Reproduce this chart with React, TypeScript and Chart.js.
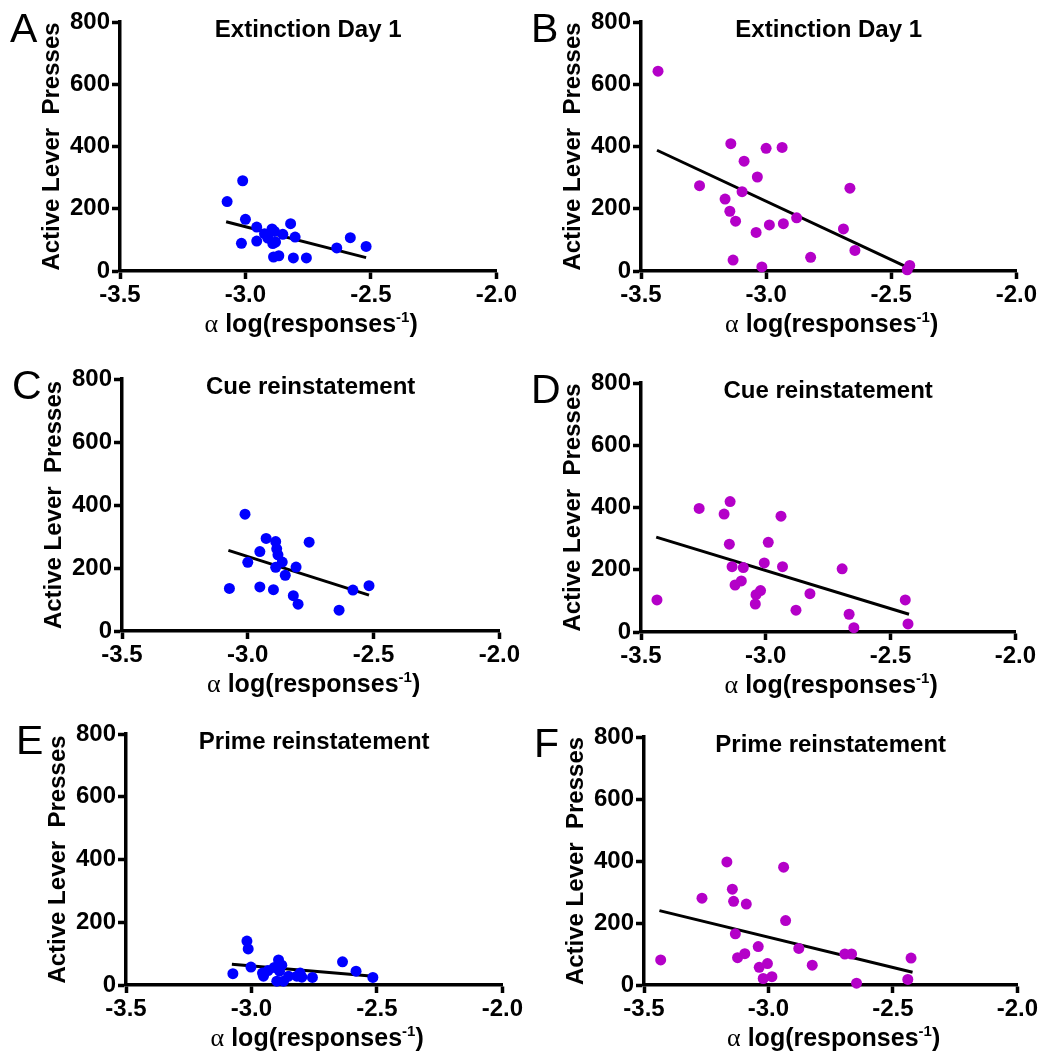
import React, { useEffect, useRef } from "react";
import { Chart, registerables } from "chart.js";

Chart.register(...registerables);

// ---------- data ----------
const X_TICKS = [-3.5, -3.0, -2.5, -2.0];
const Y_TICKS = [0, 200, 400, 600, 800];

const BLUE = "#0000ff";
const MAGENTA = "#b400c8";

const TITLE_EXT = "Extinction Day 1";
const TITLE_CUE = "Cue reinstatement";
const TITLE_PRIME = "Prime reinstatement";
const Y_TITLE = "Active Lever  Presses";

const A_X = [-3.073, -3.011, -3.0, -3.016, -2.955, -2.955, -2.924, -2.911, -2.894, -2.884, -2.891, -2.88, -2.851, -2.82, -2.802, -2.888, -2.867, -2.809, -2.757, -2.636, -2.582, -2.519];
const A_Y = [223, 290, 166, 89, 141, 96, 120, 106, 135, 127, 88, 93, 118, 152, 109, 45, 49, 42, 42, 74, 107, 79];
const A_FIT_X = [-3.077, -2.519];
const A_FIT_Y = [158, 43];

const B_X = [-3.432, -3.266, -3.141, -3.088, -3.0, -2.936, -3.035, -3.096, -3.164, -3.145, -3.122, -3.04, -2.987, -2.931, -2.878, -3.132, -3.017, -2.822, -2.691, -2.665, -2.645, -2.436, -2.426];
const B_Y = [642, 274, 409, 353, 394, 397, 302, 255, 231, 192, 160, 124, 148, 152, 171, 35, 13, 44, 135, 266, 66, 4, 18];
const B_FIT_X = [-3.436, -2.439];
const B_FIT_Y = [388, 13];

const C_X = [-3.011, -3.073, -3.0, -2.952, -2.952, -2.927, -2.889, -2.885, -2.88, -2.863, -2.889, -2.851, -2.898, -2.808, -2.756, -2.819, -2.8, -2.637, -2.582, -2.518];
const C_Y = [371, 135, 218, 252, 140, 294, 284, 261, 242, 219, 202, 177, 131, 203, 282, 112, 85, 66, 130, 144];
const C_FIT_X = [-3.077, -2.518];
const C_FIT_Y = [256, 114];

const D_X = [-3.436, -3.267, -3.167, -3.143, -3.146, -3.135, -3.09, -3.123, -3.098, -3.039, -3.021, -3.042, -3.006, -2.99, -2.939, -2.933, -2.879, -2.823, -2.694, -2.666, -2.647, -2.441, -2.43];
const D_Y = [103, 397, 379, 419, 282, 210, 207, 151, 164, 120, 133, 90, 222, 288, 372, 210, 70, 123, 203, 57, 14, 103, 26];
const D_FIT_X = [-3.439, -2.426];
const D_FIT_Y = [305, 57];

const E_X = [-3.018, -3.013, -3.002, -3.074, -2.956, -2.952, -2.934, -2.909, -2.892, -2.879, -2.888, -2.899, -2.872, -2.852, -2.819, -2.806, -2.799, -2.757, -2.637, -2.583, -2.516];
const E_Y = [140, 115, 57, 36, 38, 28, 46, 56, 80, 63, 44, 12, 12, 28, 28, 38, 25, 24, 74, 44, 24];
const E_FIT_X = [-3.078, -2.514];
const E_FIT_Y = [66, 28];

const F_X = [-3.433, -3.267, -3.167, -3.145, -3.14, -3.089, -3.133, -3.124, -3.095, -3.041, -3.037, -3.004, -3.021, -2.986, -2.939, -2.931, -2.878, -2.824, -2.693, -2.666, -2.646, -2.44, -2.427];
const F_Y = [81, 280, 397, 309, 270, 261, 165, 88, 101, 124, 57, 69, 21, 27, 380, 208, 118, 64, 100, 100, 6, 18, 87];
const F_FIT_X = [-3.438, -2.421];
const F_FIT_Y = [240, 41];

const PANELS = [
  { letter: "A", title: TITLE_EXT, xs: A_X, ys: A_Y, fitX: A_FIT_X, fitY: A_FIT_Y, color: BLUE },
  { letter: "B", title: TITLE_EXT, xs: B_X, ys: B_Y, fitX: B_FIT_X, fitY: B_FIT_Y, color: MAGENTA },
  { letter: "C", title: TITLE_CUE, xs: C_X, ys: C_Y, fitX: C_FIT_X, fitY: C_FIT_Y, color: BLUE },
  { letter: "D", title: TITLE_CUE, xs: D_X, ys: D_Y, fitX: D_FIT_X, fitY: D_FIT_Y, color: MAGENTA },
  { letter: "E", title: TITLE_PRIME, xs: E_X, ys: E_Y, fitX: E_FIT_X, fitY: E_FIT_Y, color: BLUE },
  { letter: "F", title: TITLE_PRIME, xs: F_X, ys: F_Y, fitX: F_FIT_X, fitY: F_FIT_Y, color: MAGENTA },
];

// ---------- layout (plot-area placement in page pixels) ----------
const LAYOUT = [
  { plotLeft: 120, plotTop: 22, w: 377, h: 249 },
  { plotLeft: 641, plotTop: 22, w: 376, h: 249 },
  { plotLeft: 122, plotTop: 379, w: 378, h: 252 },
  { plotLeft: 641, plotTop: 383, w: 375, h: 249 },
  { plotLeft: 126, plotTop: 734, w: 377, h: 251 },
  { plotLeft: 644, plotTop: 737, w: 374, h: 248 },
];

const LEFT_W = 120;
const PAD_TOP = 22;
const PAD_RIGHT = 22;
const BOTTOM_H = 70;

const FAMILY = "'Liberation Sans', Arial, sans-serif";
const TICK_FONT = { family: FAMILY, weight: "bold" as const, size: 24 };

function Panel({ spec, box }: { spec: any; box: any }) {
  const ref = useRef<HTMLCanvasElement | null>(null);
  const W = LEFT_W + box.w + PAD_RIGHT;
  const H = PAD_TOP + box.h + BOTTOM_H;

  useEffect(() => {
    const canvas = ref.current;
    if (!canvas) return;

    const textPlugin = {
      id: "panelText",
      afterDraw(chart: any) {
        const { ctx, chartArea: a } = chart;
        ctx.save();
        ctx.fillStyle = "#000";
        ctx.textBaseline = "alphabetic";
        // panel letter
        ctx.font = "41px 'Liberation Sans'";
        ctx.textAlign = "left";
        ctx.fillText(spec.letter, a.left - 110, a.top + 20);
        // panel title
        ctx.font = "bold 24px " + FAMILY;
        ctx.textAlign = "center";
        ctx.fillText(spec.title, (a.left + a.right) / 2, a.top + 15);
        // x-axis title with superscript
        const parts = [
          { t: "\u03b1", font: "26px 'Liberation Serif'", dy: 0 },
          { t: " log(responses", font: "bold 25px " + FAMILY, dy: 0 },
          { t: "-1", font: "bold 15px " + FAMILY, dy: -10 },
          { t: ")", font: "bold 25px " + FAMILY, dy: 0 },
        ];
        ctx.textAlign = "left";
        let total = 0;
        const widths = parts.map((p) => {
          ctx.font = p.font;
          const wd = ctx.measureText(p.t).width;
          total += wd;
          return wd;
        });
        let x = (a.left + a.right) / 2 + 3 - total / 2;
        const base = a.bottom + 61;
        parts.forEach((p, i) => {
          ctx.font = p.font;
          ctx.fillText(p.t, x, base + p.dy);
          x += widths[i];
        });
        ctx.restore();
      },
    };

    const chart = new Chart(canvas, {
      type: "scatter",
      data: {
        datasets: [
          {
            type: "scatter",
            data: spec.xs.map((x: number, i: number) => ({ x, y: spec.ys[i] })),
            backgroundColor: spec.color,
            borderColor: spec.color,
            borderWidth: 0,
            pointRadius: 5.5,
            pointHoverRadius: 5.5,
            clip: false as any,
            order: 1,
          },
          {
            type: "line",
            data: spec.fitX.map((x: number, i: number) => ({ x, y: spec.fitY[i] })),
            borderColor: "#000",
            borderWidth: 3,
            pointRadius: 0,
            fill: false,
            showLine: true,
            clip: false as any,
            order: 2,
          } as any,
        ],
      },
      options: {
        animation: false,
        responsive: false,
        devicePixelRatio: 1,
        layout: { padding: { top: PAD_TOP, right: PAD_RIGHT, left: 0, bottom: 0 } },
        plugins: {
          legend: { display: false },
          tooltip: { enabled: false },
          title: { display: false },
        },
        events: [],
        scales: {
          x: {
            type: "linear",
            position: "bottom",
            min: X_TICKS[0],
            max: X_TICKS[X_TICKS.length - 1],
            afterBuildTicks: (s: any) => {
              s.ticks = X_TICKS.map((v) => ({ value: v }));
            },
            afterFit: (s: any) => {
              s.height = BOTTOM_H;
            },
            ticks: {
              callback: (v: any) => Number(v).toFixed(1),
              font: TICK_FONT,
              color: "#000",
              padding: 2,
              maxRotation: 0,
              autoSkip: false,
            },
            grid: {
              drawOnChartArea: false,
              drawTicks: true,
              tickLength: 8,
              tickWidth: 3.5,
              tickColor: "#000",
            },
            border: { display: true, color: "#000", width: 3.5 },
          },
          y: {
            type: "linear",
            position: "left",
            min: Y_TICKS[0],
            max: Y_TICKS[Y_TICKS.length - 1],
            afterBuildTicks: (s: any) => {
              s.ticks = Y_TICKS.map((v) => ({ value: v }));
            },
            afterFit: (s: any) => {
              s.width = LEFT_W;
            },
            ticks: {
              callback: (v: any) => String(v),
              font: TICK_FONT,
              color: "#000",
              padding: 2,
              autoSkip: false,
            },
            grid: {
              drawOnChartArea: false,
              drawTicks: true,
              tickLength: 8,
              tickWidth: 3.5,
              tickColor: "#000",
            },
            border: { display: true, color: "#000", width: 3.5 },
            title: {
              display: true,
              text: Y_TITLE,
              color: "#000",
              font: { family: FAMILY, weight: "bold", size: 24 },
              padding: { top: 38, bottom: 0 },
            },
          },
        },
      } as any,
      plugins: [textPlugin],
    });
    return () => chart.destroy();
  }, []);

  return (
    <canvas
      ref={ref}
      width={W}
      height={H}
      style={{
        position: "absolute",
        left: box.plotLeft - LEFT_W,
        top: box.plotTop - PAD_TOP,
        width: W,
        height: H,
      }}
    />
  );
}

export default function App() {
  return (
    <div
      style={{
        position: "absolute",
        left: 0,
        top: 0,
        width: 1041,
        height: 1055,
        overflow: "hidden",
        background: "#fff",
      }}
    >
      {PANELS.map((p, i) => (
        <Panel key={p.letter} spec={p} box={LAYOUT[i]} />
      ))}
    </div>
  );
}
